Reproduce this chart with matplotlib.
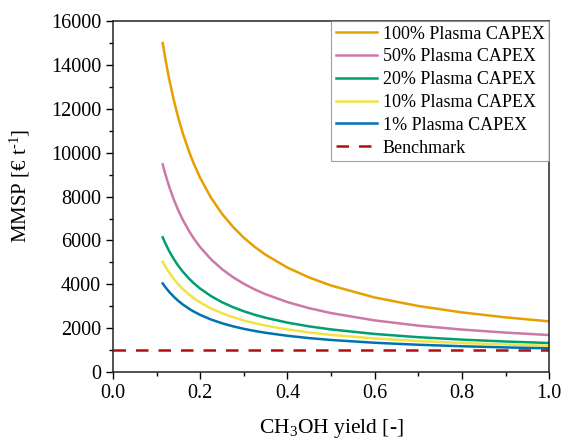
import numpy as np
import matplotlib
matplotlib.use("Agg")
import matplotlib.pyplot as plt
from matplotlib.ticker import MultipleLocator

plt.rcParams['font.family'] = ['Liberation Serif', 'DejaVu Serif']
plt.rcParams['mathtext.fontset'] = 'custom'
plt.rcParams['mathtext.rm'] = 'Liberation Serif'
plt.rcParams['mathtext.it'] = 'Liberation Serif:italic'

# CH3OH yield values
yield_x = [0.114, 0.117, 0.12, 0.125, 0.13, 0.14, 0.15, 0.16, 0.175, 0.185,
           0.2, 0.225, 0.25, 0.275, 0.3, 0.325, 0.35, 0.4, 0.45, 0.5,
           0.6, 0.7, 0.8, 0.9, 1.0]

# MMSP [EUR/t] for each plasma CAPEX share
mmsp_100 = [15000, 14642, 14293, 13748, 13245, 12347, 11570, 10889, 10013, 9508,
            8846, 7938, 7212, 6618, 6123, 5704, 5345, 4761, 4307, 3944,
            3399, 3010, 2719, 2492, 2310]
mmsp_50 = [9467, 9241, 9027, 8693, 8385, 7835, 7358, 6941, 6405, 6096,
           5690, 5134, 4689, 4325, 4022, 3765, 3545, 3188, 2909, 2687,
           2353, 2115, 1936, 1797, 1686]
mmsp_20 = [6140, 6001, 5869, 5662, 5471, 5131, 4835, 4577, 4245, 4053,
           3802, 3458, 3182, 2957, 2769, 2610, 2473, 2252, 2080, 1942,
           1735, 1588, 1477, 1391, 1322]
mmsp_10 = [5030, 4921, 4815, 4651, 4499, 4228, 3994, 3788, 3524, 3372,
           3172, 2898, 2679, 2500, 2350, 2224, 2116, 1940, 1803, 1693,
           1529, 1411, 1323, 1255, 1200]
mmsp_1 = [4040, 3955, 3874, 3747, 3630, 3420, 3239, 3080, 2876, 2758,
          2604, 2392, 2223, 2084, 1969, 1871, 1788, 1652, 1546, 1461,
          1334, 1243, 1175, 1122, 1080]
benchmark = 1000

labels = ['100% Plasma CAPEX', '50% Plasma CAPEX', '20% Plasma CAPEX',
          '10% Plasma CAPEX', '1% Plasma CAPEX']
colors = ['#E69F00', '#CC79A7', '#009E73', '#F0E442', '#0072B2']

fig = plt.figure(figsize=(5.65, 4.4), dpi=100)
ax = fig.add_axes([0.2, 0.1545, 0.772, 0.7975])

for ys, lab, c in zip([mmsp_100, mmsp_50, mmsp_20, mmsp_10, mmsp_1], labels, colors):
    ax.plot(yield_x, ys, color=c, lw=1.8, label=lab)
ax.axhline(benchmark, color='#B01010', lw=1.8, ls=(0, (5, 4)), label='Benchmark')

ax.set_xlim(0, 1)
ax.set_ylim(0, 16000)
ax.xaxis.set_major_locator(MultipleLocator(0.2))
ax.xaxis.set_minor_locator(MultipleLocator(0.1))
ax.yaxis.set_major_locator(MultipleLocator(2000))
ax.yaxis.set_minor_locator(MultipleLocator(1000))
ax.xaxis.set_major_formatter(plt.FuncFormatter(lambda v, p: f'{v:.1f}'))
ax.tick_params(which='both', direction='out', top=False, right=False, labelsize=14.5)
ax.tick_params(which='major', length=5, width=1)
ax.tick_params(which='minor', length=3, width=1)
for s in ax.spines.values():
    s.set_linewidth(1.1)
    s.set_color('#222222')

ax.set_xlabel(r'CH$_3$OH yield [-]', fontsize=15.5, labelpad=10)
ax.set_ylabel(r'MMSP [€ t$^{\text{-1}}$]', fontsize=15)
ax.yaxis.set_label_coords(-0.186, 0.53)

leg = ax.legend(loc='upper right', fontsize=13, frameon=True, fancybox=False,
                borderaxespad=0, handlelength=2.3, labelspacing=0.32,
                handletextpad=0.3, borderpad=0.25)
leg.get_frame().set_edgecolor('#888888')
leg.get_frame().set_linewidth(0.8)

fig.savefig('out.png', dpi=100)
